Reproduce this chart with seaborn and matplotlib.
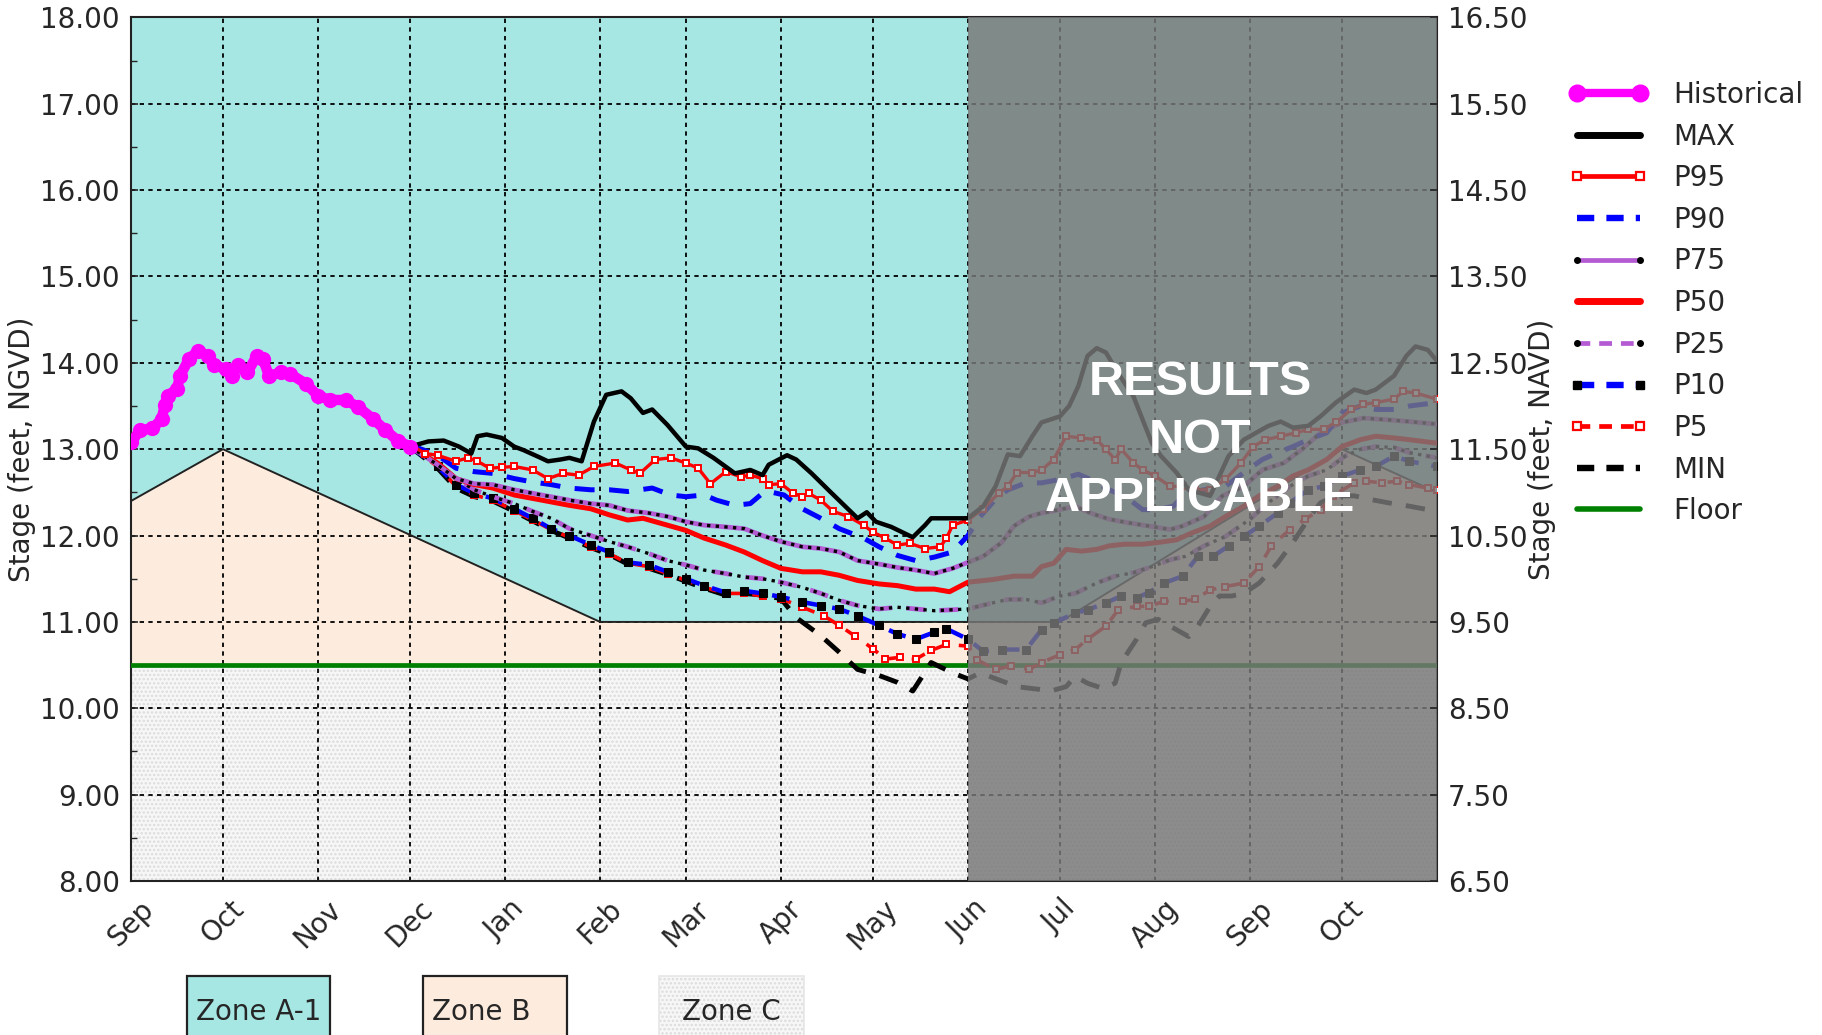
import numpy as np
import pandas as pd
import matplotlib
matplotlib.use("Agg")
import matplotlib.pyplot as plt
from matplotlib.lines import Line2D
from matplotlib.patches import Rectangle
from matplotlib.ticker import FormatStrFormatter, MultipleLocator
import seaborn as sns

sns.set_style("white")
plt.rcParams["font.family"] = ["DejaVu Sans"]
plt.rcParams["hatch.linewidth"] = 1.2

START = pd.Timestamp("2024-09-01")
END_DAY = 426          # Nov 1 of the following year
OUTLOOK_END_DAY = 273  # Jun 1: results beyond this are not applicable

# ---- regulation schedule (days since Sep 1) ----
zone_b_days = [0, 30, 153, 303, 395, 426]
zone_b_top = [12.4, 13.0, 11.0, 11.0, 13.0, 12.5]
floor_stage = 10.5

# ---- observed stage ----
hist_days = [0, 3, 7, 10, 11, 12, 15, 16, 19, 22, 25, 27, 31, 33, 35, 38, 41, 43,
             45, 49, 52, 57, 61, 65, 70, 74, 79, 83, 87, 91]
hist_stage = [13.08, 13.22, 13.24, 13.35, 13.51, 13.62, 13.70, 13.85, 14.05, 14.14,
              14.08, 13.97, 13.93, 13.85, 13.97, 13.89, 14.08, 14.05, 13.85, 13.89,
              13.87, 13.76, 13.62, 13.57, 13.57, 13.49, 13.35, 13.22, 13.10, 13.03]

# ---- position analysis traces (days since Sep 1) ----
max_days = [91, 97, 102, 107, 111, 113, 116, 121, 125, 128, 133, 136, 140, 143, 147,
            151, 155, 160, 163, 167, 170, 175, 181, 185, 190, 197, 202, 206, 208, 214,
            217, 222, 228, 237, 240, 243, 248, 255, 259, 261, 273, 278, 282, 286, 290,
            294, 297, 303, 306, 309, 312, 315, 318, 322, 327, 330, 333, 336, 341, 345,
            352, 355, 358, 363, 367, 371, 375, 379, 384, 388, 393, 399, 403, 406, 412,
            416, 419, 423, 426]
max_stage = [13.03, 13.09, 13.10, 13.03, 12.95, 13.15, 13.17, 13.13, 13.03, 12.99,
             12.91, 12.86, 12.88, 12.90, 12.86, 13.32, 13.63, 13.67, 13.59, 13.42,
             13.46, 13.28, 13.03, 13.01, 12.90, 12.72, 12.76, 12.70, 12.82, 12.93,
             12.88, 12.72, 12.51, 12.20, 12.27, 12.16, 12.10, 11.98, 12.12, 12.20,
             12.20, 12.34, 12.57, 12.94, 12.92, 13.15, 13.31, 13.38, 13.50, 13.73,
             14.08, 14.17, 14.12, 13.88, 13.61, 13.34, 13.07, 12.92, 12.73, 12.53,
             12.46, 12.69, 12.92, 13.11, 13.19, 13.27, 13.32, 13.25, 13.27, 13.38,
             13.54, 13.69, 13.65, 13.69, 13.85, 14.08, 14.19, 14.15, 14.02]

p95_days = [91, 96, 100, 106, 110, 113, 117, 121, 125, 131, 136, 141, 146, 151, 158,
            163, 166, 171, 176, 181, 185, 189, 194, 199, 202, 206, 208, 212, 216, 219,
            221, 225, 229, 234, 239, 242, 246, 250, 254, 259, 264, 266, 268, 273, 278,
            283, 286, 289, 294, 297, 301, 305, 310, 315, 318, 321, 323, 327, 330, 334,
            339, 343, 347, 352, 357, 362, 366, 370, 375, 380, 384, 389, 393, 398, 402,
            406, 412, 415, 419, 426]
p95_stage = [13.05, 12.95, 12.93, 12.86, 12.90, 12.86, 12.78, 12.79, 12.80, 12.76,
             12.66, 12.72, 12.70, 12.80, 12.84, 12.76, 12.72, 12.88, 12.90, 12.84,
             12.78, 12.60, 12.74, 12.68, 12.70, 12.66, 12.59, 12.60, 12.49, 12.45,
             12.49, 12.41, 12.28, 12.22, 12.12, 12.04, 11.97, 11.89, 11.91, 11.85,
             11.87, 11.97, 12.12, 12.18, 12.31, 12.49, 12.57, 12.73, 12.73, 12.76,
             12.88, 13.15, 13.13, 13.11, 13.00, 12.88, 13.00, 12.84, 12.76, 12.69,
             12.57, 12.57, 12.53, 12.53, 12.65, 12.84, 13.03, 13.11, 13.15, 13.19,
             13.23, 13.23, 13.31, 13.46, 13.52, 13.54, 13.58, 13.67, 13.65, 13.58]

p90_days = [91, 100, 106, 112, 118, 125, 131, 137, 143, 150, 156, 162, 170, 176, 181,
            187, 191, 197, 202, 206, 208, 213, 219, 225, 231, 239, 244, 250, 256, 262,
            268, 273, 277, 282, 286, 292, 297, 303, 309, 313, 319, 324, 330, 335, 340,
            344, 350, 357, 363, 369, 374, 379, 384, 390, 395, 401, 406, 412, 417, 426]
p90_stage = [13.05, 12.93, 12.78, 12.74, 12.72, 12.66, 12.62, 12.59, 12.55, 12.53,
             12.53, 12.51, 12.55, 12.47, 12.45, 12.47, 12.41, 12.35, 12.37, 12.49,
             12.51, 12.47, 12.31, 12.20, 12.08, 11.97, 11.87, 11.77, 11.71, 11.75,
             11.81, 12.00, 12.22, 12.42, 12.53, 12.61, 12.61, 12.65, 12.71, 12.65,
             12.53, 12.46, 12.30, 12.30, 12.34, 12.49, 12.53, 12.57, 12.73, 12.88,
             12.96, 13.03, 13.11, 13.19, 13.42, 13.50, 13.46, 13.46, 13.50, 13.54]

p75_days = [91, 100, 106, 112, 118, 125, 131, 137, 143, 150, 156, 162, 169, 175, 181,
            187, 194, 200, 206, 212, 219, 225, 231, 237, 244, 250, 256, 262, 268, 273,
            278, 284, 288, 293, 297, 303, 308, 313, 319, 325, 332, 339, 343, 350, 356,
            363, 369, 376, 382, 388, 395, 402, 410, 417, 426]
p75_stage = [13.03, 12.82, 12.66, 12.60, 12.59, 12.53, 12.49, 12.45, 12.41, 12.37,
             12.35, 12.29, 12.26, 12.22, 12.16, 12.12, 12.10, 12.08, 12.00, 11.93,
             11.87, 11.85, 11.81, 11.71, 11.67, 11.63, 11.60, 11.56, 11.62, 11.69,
             11.76, 11.92, 12.11, 12.22, 12.26, 12.30, 12.34, 12.26, 12.19, 12.15,
             12.11, 12.07, 12.11, 12.22, 12.46, 12.57, 12.76, 12.84, 13.00, 13.19,
             13.31, 13.36, 13.34, 13.32, 13.29]

p50_days = [91, 100, 106, 112, 118, 125, 131, 137, 143, 150, 156, 162, 167, 175, 181,
            187, 194, 200, 206, 212, 219, 225, 231, 237, 244, 250, 256, 262, 267, 273,
            281, 288, 294, 297, 301, 305, 310, 315, 319, 324, 330, 335, 341, 346, 352,
            357, 363, 368, 374, 379, 384, 390, 395, 401, 406, 412, 417, 426]
p50_stage = [13.03, 12.84, 12.66, 12.59, 12.55, 12.47, 12.43, 12.39, 12.35, 12.31,
             12.24, 12.18, 12.20, 12.12, 12.06, 11.97, 11.89, 11.81, 11.71, 11.62,
             11.58, 11.58, 11.54, 11.48, 11.44, 11.42, 11.38, 11.38, 11.35, 11.46,
             11.49, 11.53, 11.53, 11.64, 11.68, 11.84, 11.82, 11.84, 11.88, 11.90,
             11.90, 11.92, 11.95, 12.03, 12.11, 12.22, 12.34, 12.46, 12.57, 12.69,
             12.76, 12.88, 13.03, 13.11, 13.15, 13.13, 13.11, 13.07]

p25_days = [91, 100, 106, 112, 118, 125, 131, 137, 143, 150, 156, 162, 169, 175, 181,
            187, 194, 200, 206, 212, 219, 225, 231, 237, 244, 250, 256, 262, 273, 281,
            286, 292, 297, 303, 308, 315, 321, 327, 333, 339, 344, 350, 357, 365, 371,
            378, 384, 390, 396, 401, 406, 412, 417, 426]
p25_stage = [13.03, 12.84, 12.66, 12.53, 12.45, 12.37, 12.28, 12.20, 12.08, 12.00,
             11.93, 11.87, 11.79, 11.71, 11.66, 11.60, 11.56, 11.52, 11.50, 11.46,
             11.40, 11.33, 11.25, 11.19, 11.15, 11.17, 11.15, 11.13, 11.15, 11.22,
             11.26, 11.26, 11.22, 11.30, 11.33, 11.45, 11.53, 11.57, 11.64, 11.72,
             11.76, 11.88, 11.99, 12.19, 12.38, 12.57, 12.69, 12.76, 12.92, 13.00,
             13.03, 13.02, 12.96, 12.90]

p10_days = [91, 100, 106, 112, 118, 125, 131, 137, 143, 150, 156, 162, 169, 175, 181,
            187, 194, 200, 206, 212, 219, 225, 231, 237, 244, 250, 256, 262, 266, 273,
            278, 284, 292, 297, 301, 308, 312, 318, 323, 328, 332, 337, 343, 348, 353,
            358, 363, 368, 374, 378, 384, 389, 395, 401, 406, 412, 417, 426]
p10_stage = [13.03, 12.80, 12.59, 12.49, 12.43, 12.31, 12.20, 12.08, 12.00, 11.89,
             11.81, 11.69, 11.66, 11.58, 11.50, 11.42, 11.34, 11.36, 11.33, 11.29,
             11.23, 11.19, 11.15, 11.07, 10.96, 10.86, 10.80, 10.88, 10.92, 10.80,
             10.66, 10.68, 10.68, 10.91, 10.99, 11.10, 11.14, 11.22, 11.30, 11.28,
             11.34, 11.45, 11.53, 11.76, 11.76, 11.88, 11.99, 12.11, 12.26, 12.38,
             12.53, 12.57, 12.69, 12.76, 12.80, 12.92, 12.86, 12.80]

p5_days = [91, 100, 106, 112, 118, 125, 131, 137, 143, 150, 156, 162, 169, 175, 181,
           187, 194, 200, 206, 212, 219, 226, 231, 236, 242, 246, 251, 256, 261, 266,
           273, 276, 282, 287, 293, 297, 303, 308, 312, 318, 322, 328, 332, 337, 343,
           347, 352, 357, 363, 368, 372, 378, 383, 388, 392, 399, 403, 408, 413, 417,
           423, 426]
p5_stage = [13.03, 12.80, 12.57, 12.47, 12.41, 12.29, 12.18, 12.07, 11.98, 11.87,
            11.79, 11.68, 11.64, 11.56, 11.48, 11.40, 11.33, 11.33, 11.30, 11.27,
            11.17, 11.07, 10.96, 10.84, 10.69, 10.57, 10.59, 10.57, 10.67, 10.74,
            10.72, 10.56, 10.45, 10.49, 10.45, 10.53, 10.62, 10.68, 10.80, 10.95,
            11.14, 11.18, 11.18, 11.24, 11.24, 11.26, 11.37, 11.41, 11.45, 11.64,
            11.88, 12.07, 12.19, 12.30, 12.46, 12.61, 12.63, 12.61, 12.63, 12.59,
            12.55, 12.53]

min_days = [91, 100, 106, 112, 118, 125, 131, 137, 143, 150, 156, 162, 169, 175, 181,
            187, 194, 200, 206, 212, 217, 225, 231, 237, 244, 250, 255, 261, 268, 273,
            277, 283, 289, 296, 300, 305, 308, 312, 317, 321, 323, 328, 331, 335, 341,
            345, 348, 352, 355, 359, 363, 368, 374, 379, 384, 388, 393, 399, 404, 410,
            417, 426]
min_stage = [13.03, 12.78, 12.55, 12.45, 12.40, 12.28, 12.17, 12.06, 11.97, 11.86,
             11.78, 11.67, 11.62, 11.55, 11.47, 11.39, 11.31, 11.33, 11.31, 11.27,
             11.05, 10.84, 10.65, 10.45, 10.38, 10.30, 10.20, 10.53, 10.41, 10.34,
             10.41, 10.33, 10.25, 10.22, 10.20, 10.25, 10.37, 10.29, 10.23, 10.29,
             10.53, 10.80, 10.99, 11.03, 10.91, 10.83, 10.95, 11.18, 11.30, 11.30,
             11.33, 11.45, 11.68, 11.92, 12.19, 12.38, 12.46, 12.46, 12.42, 12.38,
             12.34, 12.28]

month_ticks = pd.date_range("2024-09-01", "2025-10-01", freq="MS")
month_labels = [d.strftime("%b") for d in month_ticks]
left_ticks = np.arange(8.0, 18.01, 1.0)
right_ticks = np.arange(6.5, 16.51, 1.0)
datum_shift = 1.5      # NGVD minus NAVD
zone_labels = ["Zone A-1", "Zone B", "Zone C"]


def to_dates(days):
    return START + pd.to_timedelta(np.asarray(days, dtype=float), unit="D")


W, H = 1822, 1035
fig = plt.figure(figsize=(W / 100, H / 100), dpi=100)
ax = fig.add_axes([131 / W, 1 - 881 / H, (1437 - 131) / W, (881 - 17.4) / H])

CYAN = "#a6e7e4"
PEACH = "#fdecdd"
ZONE_C = "#f7f7f7"

x0, x1 = to_dates([0])[0], to_dates([END_DAY])[0]
zb_x = to_dates(zone_b_days)
ax.fill_between(zb_x, zone_b_top, 18.0, facecolor=CYAN, lw=0, zorder=1)
ax.fill_between(zb_x, floor_stage, zone_b_top, facecolor=PEACH, lw=0, zorder=1)
ax.fill_between([x0, x1], 8.0, floor_stage, facecolor=ZONE_C, edgecolor="#dcdcdc",
                hatch="....", lw=0, zorder=1)
sns.lineplot(x=zb_x, y=zone_b_top, ax=ax, color="#222222", lw=1.4, zorder=2)
ax.axhline(floor_stage, color="#008000", lw=3.4, zorder=3)

PURPLE = "#b45ad2"
dash_long = (0, (4, 2.9))
dot_fine = (0, (1, 1.6))

sns.lineplot(x=to_dates(hist_days), y=hist_stage, ax=ax, color="#ff00ff", lw=7.5,
             marker="o", markersize=11, markeredgecolor="#ff00ff",
             markeredgewidth=0, zorder=4)
sns.lineplot(x=to_dates(min_days), y=min_stage, ax=ax, color="black", lw=3.5,
             linestyle=dash_long, zorder=3)
sns.lineplot(x=to_dates(p5_days), y=p5_stage, ax=ax, color="red", lw=2.6,
             linestyle=(0, (4, 3)), marker="s", markersize=4.8,
             markerfacecolor="white", markeredgecolor="red", markeredgewidth=1.4,
             zorder=3)
sns.lineplot(x=to_dates(p10_days), y=p10_stage, ax=ax, color="blue", lw=3.2,
             linestyle=dash_long, marker="s", markersize=5.5,
             markerfacecolor="black", markeredgecolor="black", zorder=3)
sns.lineplot(x=to_dates(p25_days), y=p25_stage, ax=ax, color=PURPLE, lw=3.4,
             linestyle=(0, (4, 3)), zorder=3)
sns.lineplot(x=to_dates(p25_days), y=p25_stage, ax=ax, color="black", lw=2.4,
             linestyle=dot_fine, zorder=3)
sns.lineplot(x=to_dates(p50_days), y=p50_stage, ax=ax, color="red", lw=3.6, zorder=3)
sns.lineplot(x=to_dates(p75_days), y=p75_stage, ax=ax, color=PURPLE, lw=3.4, zorder=3)
sns.lineplot(x=to_dates(p75_days), y=p75_stage, ax=ax, color="black", lw=2.4,
             linestyle=dot_fine, zorder=3)
sns.lineplot(x=to_dates(p90_days), y=p90_stage, ax=ax, color="blue", lw=3.6,
             linestyle=dash_long, zorder=3)
sns.lineplot(x=to_dates(p95_days), y=p95_stage, ax=ax, color="red", lw=2.4,
             marker="s", markersize=4.8, markerfacecolor="white",
             markeredgecolor="red", markeredgewidth=1.4, zorder=3)
sns.lineplot(x=to_dates(max_days), y=max_stage, ax=ax, color="black", lw=3.2, zorder=3)

# shade the period where the outlook does not apply
ax.axvspan(to_dates([OUTLOOK_END_DAY])[0], x1, facecolor=(119 / 255,) * 3,
           alpha=0.83, lw=0, zorder=6)
ax.text(0.8185, 0.51, "RESULTS\nNOT\nAPPLICABLE", transform=ax.transAxes,
        ha="center", va="center", color="white", fontsize=35, fontweight="bold",
        family=["Liberation Sans", "DejaVu Sans"], linespacing=1.36, zorder=7)

ax.set_xlim(x0, x1)
ax.set_ylim(8.0, 18.0)
ax.set_xticks(month_ticks)
ax.set_xticklabels(month_labels, rotation=45, ha="center")
ax.set_yticks(left_ticks)
ax.yaxis.set_major_formatter(FormatStrFormatter("%.2f"))
ax.yaxis.set_minor_locator(MultipleLocator(0.5))
ax.tick_params(axis="both", which="both", direction="in", labelsize=20, pad=8)
ax.tick_params(axis="y", which="major", length=5, width=1.2)
ax.tick_params(axis="y", which="minor", length=4, width=1.0)
ax.tick_params(axis="x", which="major", length=0, pad=10)
ax.set_axisbelow("line")
ax.grid(True, which="major", color="black", lw=1.3, linestyle=(0, (2.4, 2.4)))
ax.set_xlabel("")
ax.set_ylabel("Stage (feet, NGVD)", fontsize=20, labelpad=3)
for s in ax.spines.values():
    s.set_linewidth(1.5)
    s.set_color("#222222")

ax2 = ax.twinx()
ax2.set_ylim(8.0 - datum_shift, 18.0 - datum_shift)
ax2.set_yticks(right_ticks)
ax2.yaxis.set_major_formatter(FormatStrFormatter("%.2f"))
ax2.tick_params(axis="y", direction="in", labelsize=20, pad=8, length=5, width=1.2)
ax2.set_ylabel("Stage (feet, NAVD)", fontsize=20, labelpad=0)
for s in ax2.spines.values():
    s.set_visible(False)

leg_dash = (0, (2.7, 1.9))
handles = [
    Line2D([], [], color="#ff00ff", lw=6, marker="o", markersize=12,
           markeredgecolor="#ff00ff"),
    Line2D([], [], color="black", lw=5),
    Line2D([], [], color="red", lw=3.4, marker="s", markersize=6,
           markerfacecolor="white", markeredgecolor="red", markeredgewidth=1.6),
    Line2D([], [], color="blue", lw=4.6, linestyle=leg_dash),
    Line2D([], [], color=PURPLE, lw=3.4, marker="o", markersize=4,
           markerfacecolor="black", markeredgecolor="black"),
    Line2D([], [], color="red", lw=5),
    Line2D([], [], color=PURPLE, lw=3.4, linestyle=leg_dash, marker="o",
           markersize=4, markerfacecolor="black", markeredgecolor="black"),
    Line2D([], [], color="blue", lw=4.6, linestyle=leg_dash, marker="s",
           markersize=6, markerfacecolor="black", markeredgecolor="black"),
    Line2D([], [], color="red", lw=3.4, linestyle=leg_dash, marker="s",
           markersize=6, markerfacecolor="white", markeredgecolor="red",
           markeredgewidth=1.6),
    Line2D([], [], color="black", lw=4.6, linestyle=leg_dash),
    Line2D([], [], color="#008000", lw=4),
]
labels = ["Historical", "MAX", "P95", "P90", "P75", "P50", "P25", "P10", "P5",
          "MIN", "Floor"]
fig.legend(handles, labels, loc="upper left",
           bbox_to_anchor=(1569 / W, 1 - 81 / H), frameon=False, fontsize=20,
           numpoints=2, handlelength=2.85, handletextpad=0.9, labelspacing=0.49,
           borderpad=0, borderaxespad=0)

# zone key boxes along the bottom edge
box_specs = [(187, 330, CYAN, "#222222", None, "center"),
             (423, 567, PEACH, "#222222", None, "left"),
             (659, 804, ZONE_C, "#e6e6e6", "....", "center")]
for label, (bx0, bx1, fc, ec, hatch, align) in zip(zone_labels, box_specs):
    rect = Rectangle((bx0 / W, -0.02), (bx1 - bx0) / W, 0.02 + 1 - 976 / H,
                     transform=fig.transFigure, facecolor=fc,
                     edgecolor=ec if hatch is None else "#dcdcdc",
                     hatch=hatch, lw=1.6 if hatch is None else 0.0)
    fig.patches.append(rect)
    if hatch is not None:
        fig.patches.append(Rectangle((bx0 / W, -0.02), (bx1 - bx0) / W,
                                     0.02 + 1 - 976 / H, transform=fig.transFigure,
                                     fill=False, edgecolor=ec, lw=1.2))
    tx = (bx0 + bx1) / 2 / W if align == "center" else (bx0 + 9) / W
    fig.text(tx, 1 - 1020 / H, label, ha=align, va="baseline", fontsize=20)

fig.savefig("out.png", dpi=100)
